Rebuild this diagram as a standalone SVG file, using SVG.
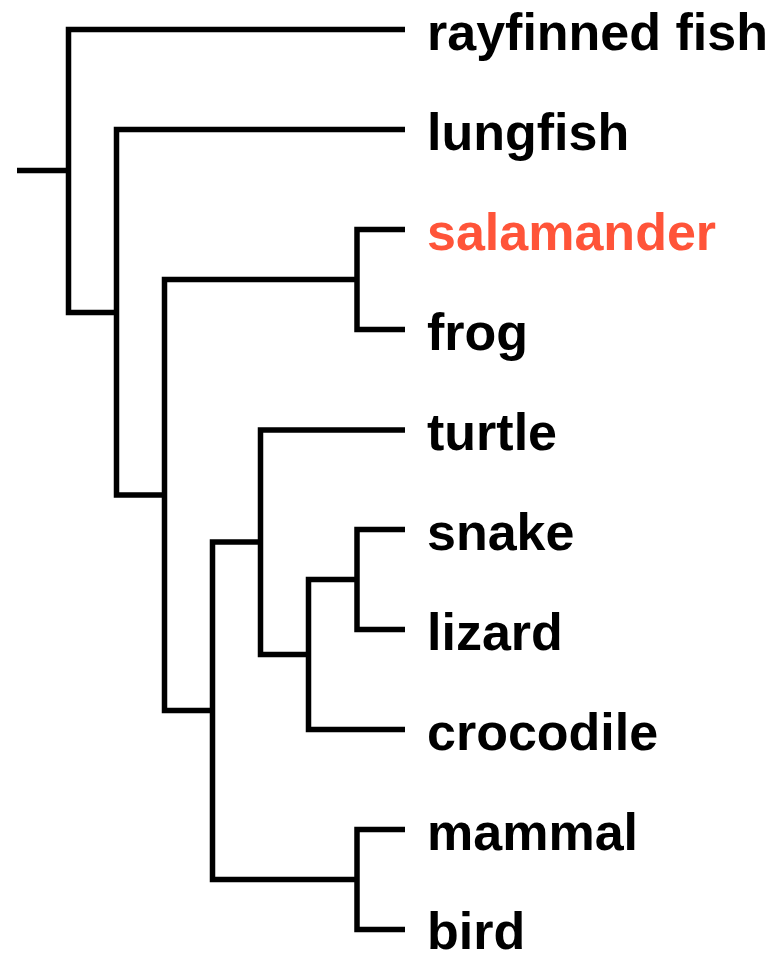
<svg xmlns="http://www.w3.org/2000/svg" width="784" height="955" viewBox="0 0 784 955">
<style>
.e{fill:none;stroke:#000;stroke-width:5.5;stroke-linejoin:miter;stroke-linecap:butt}
.t{font-family:"Liberation Sans",Arial,sans-serif;font-weight:bold;font-size:52px;fill:#000}
.hl{fill:#FF5439}
</style>
<rect width="784" height="955" fill="#fff"/>
<g id="connectors">
<path class="e" d="M17 170.5H68.5"/>
<path class="e" d="M405 29.5H68.5V312.5H116.5"/>
<path class="e" d="M405 129.5H116.5V495H164.5"/>
<path class="e" d="M357 279.5H164.5V710.5H212.5"/>
<path class="e" d="M405 229.5H357V329.5H405"/>
<path class="e" d="M405 430H260.5V654.5H308.5"/>
<path class="e" d="M260.5 542H212.5V879.5H357"/>
<path class="e" d="M357 579.5H308.5V729.5H405"/>
<path class="e" d="M405 529.5H357V629.5H405"/>
<path class="e" d="M405 829.5H357V929.5H405"/>
</g>
<g id="rayfinned_fish"><text class="t" x="427" y="50">rayfinned fish</text></g>
<g id="lungfish"><text class="t" x="427" y="150">lungfish</text></g>
<g id="salamander"><text class="t hl" x="427" y="250">salamander</text></g>
<g id="frog"><text class="t" x="427" y="350">frog</text></g>
<g id="turtle"><text class="t" x="427" y="450">turtle</text></g>
<g id="snake"><text class="t" x="427" y="550">snake</text></g>
<g id="lizard"><text class="t" x="427" y="650">lizard</text></g>
<g id="crocodile"><text class="t" x="427" y="750">crocodile</text></g>
<g id="mammal"><text class="t" x="427" y="850">mammal</text></g>
<g id="bird"><text class="t" x="427" y="949">bird</text></g>
</svg>
